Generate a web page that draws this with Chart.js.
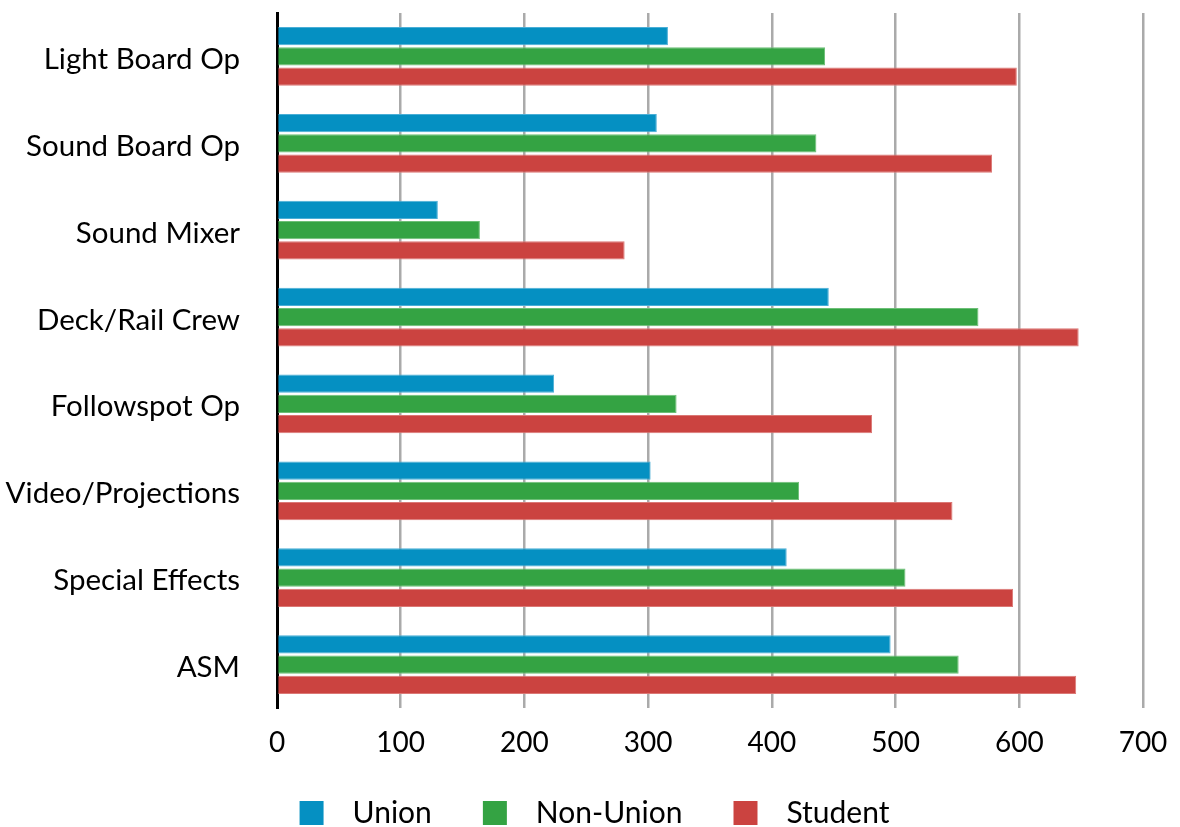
<!DOCTYPE html>
<html>
<head>
<meta charset="utf-8">
<script src="https://cdn.jsdelivr.net/npm/chart.js@4.4.1/dist/chart.umd.min.js"></script>
<style>
html,body{margin:0;padding:0;background:#fff;}
#wrap{width:1180px;height:827px;}
</style>
</head>
<body>
<div id="wrap"><canvas id="c" width="1180" height="827"></canvas></div>
<script>
const categories = ["Light Board Op","Sound Board Op","Sound Mixer","Deck/Rail Crew","Followspot Op","Video/Projections","Special Effects","ASM"];
const unionValues = [316, 307, 130, 446, 224, 302, 412, 496];
const nonUnionValues = [443, 436, 164, 567, 323, 422, 508, 551];
const studentValues = [598, 578, 281, 648, 481, 546, 595, 646];
const xTicks = [0,100,200,300,400,500,600,700];
const seriesColors = ['#0590c2', '#34a343', '#cb4340'];

const FONT = "Lato, 'Open Sans', sans-serif";

function legendSwatch(color) {
  const cv = document.createElement('canvas');
  cv.width = 47; cv.height = 24;
  const g = cv.getContext('2d');
  g.fillStyle = color;
  g.fillRect(9, 0, 24, 24);
  return cv;
}
const swatches = seriesColors.map(legendSwatch);

new Chart(document.getElementById('c'), {
  type: 'bar',
  data: {
    labels: categories,
    datasets: [
      {label:'Union', data: unionValues, backgroundColor: seriesColors[0], borderColor:'#4aaed6', borderWidth:1, borderSkipped:'start'},
      {label:'Non-Union', data: nonUnionValues, backgroundColor: seriesColors[1], borderColor:'#6dbf77', borderWidth:1, borderSkipped:'start'},
      {label:'Student', data: studentValues, backgroundColor: seriesColors[2], borderColor:'#db7875', borderWidth:1, borderSkipped:'start'}
    ]
  },
  options: {
    indexAxis: 'y',
    responsive: false,
    animation: false,
    categoryPercentage: 0.7,
    barPercentage: 0.9,
    layout: {padding: {top: 13, right: 0, left: 0, bottom: -11}},
    plugins: {
      tooltip: {enabled: false},
      legend: {
        position: 'bottom',
        labels: {
          font: {family: FONT, size: 30},
          color: '#000',
          usePointStyle: true,
          pointStyleWidth: 47,
          boxHeight: 24,
          padding: 42,
          generateLabels: (chart) => {
            const items = Chart.defaults.plugins.legend.labels.generateLabels(chart);
            items.forEach((it, i) => { it.pointStyle = swatches[i]; });
            return items;
          }
        }
      }
    },
    scales: {
      x: {
        min: 0, max: 700,
        afterBuildTicks: (s) => { s.ticks = xTicks.map(v => ({value: v})); },
        afterFit: (s) => { s.height = 48; s.paddingLeft = 0; s.paddingRight = 37; },
        grid: {color: '#aaaaaa', lineWidth: 2.5, drawTicks: false, tickLength: 0},
        border: {display: false},
        ticks: {font: {family: FONT, size: 28}, color: '#000', padding: 18}
      },
      y: {
        afterFit: (s) => { s.width = 277; s.paddingTop = 0; s.paddingBottom = 0; },
        grid: {display: false, drawTicks: false},
        border: {display: true, color: '#000', width: 3},
        ticks: {font: {family: FONT, size: 29.5}, color: '#000', padding: 37, labelOffset: 3}
      }
    }
  }
});
</script>
</body>
</html>
